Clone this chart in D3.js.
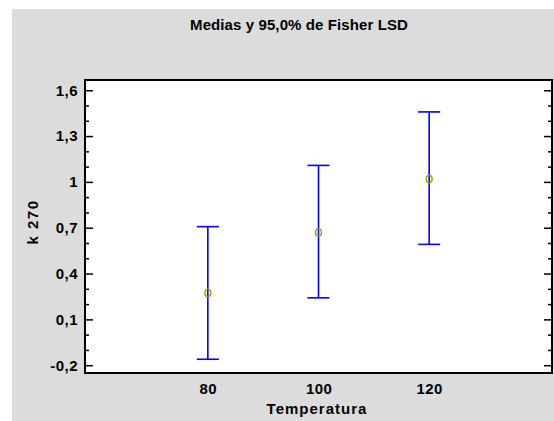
<!DOCTYPE html>
<html>
<head>
<meta charset="utf-8">
<script src="https://cdn.jsdelivr.net/npm/d3@7/dist/d3.min.js"></script>
<style>
  html, body { margin: 0; padding: 0; background: #ffffff; }
  svg { display: block; }
  text { font-family: "Liberation Sans", Arial, sans-serif; font-weight: bold; fill: #000; }
</style>
</head>
<body>
<script>
// Fisher LSD intervals for k 270 at each temperature
const categories = ["80", "100", "120"];
const means = [0.273, 0.669, 1.019];
const lowerLimits = [-0.161, 0.241, 0.591];
const upperLimits = [0.707, 1.108, 1.458];

// Axis ticks
const majorTicks = [-0.2, 0.1, 0.4, 0.7, 1.0, 1.3, 1.6];
const majorLabels = ["-0,2", "0,1", "0,4", "0,7", "1", "1,3", "1,6"];
const minorTicks = [-0.1, 0.0, 0.2, 0.3, 0.5, 0.6, 0.8, 0.9, 1.1, 1.2, 1.4, 1.5];

const W = 554, H = 421;
const plot = { left: 85, top: 80, right: 552, bottom: 373 };

const svg = d3.select("body").append("svg")
  .attr("width", W).attr("height", H);

// grey panel
svg.append("rect")
  .attr("x", 12).attr("y", 9)
  .attr("width", W - 12).attr("height", H - 9)
  .attr("fill", "#dcdcdc");

// white plotting area
svg.append("rect")
  .attr("x", plot.left).attr("y", plot.top)
  .attr("width", plot.right - plot.left).attr("height", plot.bottom - plot.top)
  .attr("fill", "#ffffff");

const x = d3.scalePoint()
  .domain(categories)
  .range([plot.left, plot.right])
  .padding(1.11);

const y = d3.scaleLinear()
  .domain([-0.251, 1.667])
  .range([plot.bottom, plot.top]);

const labelOf = new Map(majorTicks.map((v, i) => [v, majorLabels[i]]));

// left axis: inward ticks, labels outside
const leftMajor = svg.append("g")
  .attr("transform", `translate(${plot.left},0)`)
  .call(d3.axisLeft(y).tickValues(majorTicks).tickSize(-8).tickPadding(7)
    .tickFormat(d => labelOf.get(d)));
const leftMinor = svg.append("g")
  .attr("transform", `translate(${plot.left},0)`)
  .call(d3.axisLeft(y).tickValues(minorTicks).tickSize(-4).tickFormat(""));

// right axis: mirrored inward ticks
const rightMajor = svg.append("g")
  .attr("transform", `translate(${plot.right},0)`)
  .call(d3.axisRight(y).tickValues(majorTicks).tickSize(-8).tickFormat(""));
const rightMinor = svg.append("g")
  .attr("transform", `translate(${plot.right},0)`)
  .call(d3.axisRight(y).tickValues(minorTicks).tickSize(-4).tickFormat(""));

[leftMajor, leftMinor, rightMajor, rightMinor].forEach(g => {
  g.select(".domain").remove();
  g.selectAll(".tick line").attr("stroke", "#000").attr("stroke-width", 1.5);
  g.selectAll(".tick text")
    .attr("font-size", 15).attr("font-family", null)
    .style("letter-spacing", "0.5px");
});

// bottom axis: labels only
const bottom = svg.append("g")
  .attr("transform", `translate(0,${plot.bottom})`)
  .call(d3.axisBottom(x).tickSize(0).tickPadding(10));
bottom.select(".domain").remove();
bottom.selectAll(".tick text")
  .attr("font-size", 15).attr("font-family", null)
  .style("letter-spacing", "0.4px");

// frame
svg.append("rect")
  .attr("x", plot.left).attr("y", plot.top)
  .attr("width", plot.right - plot.left).attr("height", plot.bottom - plot.top)
  .attr("fill", "none").attr("stroke", "#000").attr("stroke-width", 2);

// interval bars
const capHalf = 11;
const bars = svg.append("g").selectAll("g")
  .data(categories.map((c, i) => ({ c, m: means[i], lo: lowerLimits[i], hi: upperLimits[i] })))
  .join("g");

bars.append("line")
  .attr("x1", d => x(d.c)).attr("x2", d => x(d.c))
  .attr("y1", d => y(d.lo)).attr("y2", d => y(d.hi))
  .attr("stroke", "#0000ff").attr("stroke-width", 1.6);
bars.append("line")
  .attr("x1", d => x(d.c) - capHalf).attr("x2", d => x(d.c) + capHalf)
  .attr("y1", d => y(d.hi)).attr("y2", d => y(d.hi))
  .attr("stroke", "#0000ff").attr("stroke-width", 1.6);
bars.append("line")
  .attr("x1", d => x(d.c) - capHalf).attr("x2", d => x(d.c) + capHalf)
  .attr("y1", d => y(d.lo)).attr("y2", d => y(d.lo))
  .attr("stroke", "#0000ff").attr("stroke-width", 1.6);
bars.append("ellipse")
  .attr("cx", d => x(d.c)).attr("cy", d => y(d.m))
  .attr("rx", 3).attr("ry", 3.6)
  .attr("fill", "none").attr("stroke", "#a09a00").attr("stroke-width", 1.4);

// titles
svg.append("text")
  .attr("x", 299).attr("y", 29.5)
  .attr("text-anchor", "middle").attr("font-size", 15)
  .style("letter-spacing", "0.1px")
  .text("Medias y 95,0% de Fisher LSD");

svg.append("text")
  .attr("x", 317).attr("y", 414)
  .attr("text-anchor", "middle").attr("font-size", 15)
  .style("letter-spacing", "1px")
  .text("Temperatura");

svg.append("text")
  .attr("transform", "translate(38,222) rotate(-90)")
  .attr("text-anchor", "middle").attr("font-size", 15)
  .style("letter-spacing", "1.5px")
  .text("k 270");
</script>
</body>
</html>
